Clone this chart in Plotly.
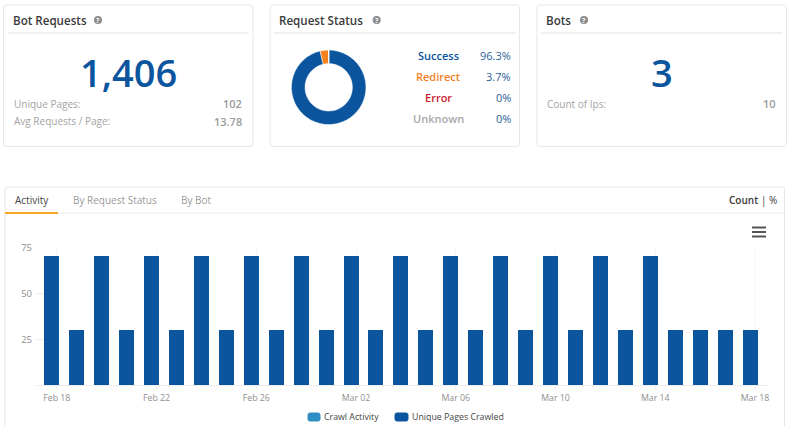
"""Bot log dashboard: three summary cards and the activity bar chart."""

import plotly.graph_objects as go

WIDTH = 800
HEIGHT = 426
FONT = "Open Sans"
BLUE = "#0b559f"
LIGHT_BLUE = "#2f8ec4"
ORANGE = "#f5821f"

days = [
    "2018-02-18", "2018-02-19", "2018-02-20", "2018-02-21", "2018-02-22",
    "2018-02-23", "2018-02-24", "2018-02-25", "2018-02-26", "2018-02-27",
    "2018-02-28", "2018-03-01", "2018-03-02", "2018-03-03", "2018-03-04",
    "2018-03-05", "2018-03-06", "2018-03-07", "2018-03-08", "2018-03-09",
    "2018-03-10", "2018-03-11", "2018-03-12", "2018-03-13", "2018-03-14",
    "2018-03-15", "2018-03-16", "2018-03-17", "2018-03-18",
]
unique_pages = [
    70, 30, 70, 30, 70, 30, 70, 30, 70, 30, 70, 30, 70, 30, 70,
    30, 70, 30, 70, 30, 70, 30, 70, 30, 70, 30, 30, 30, 30,
]
crawl_activity = [0] * len(days)

tick_days = [
    "2018-02-18", "2018-02-22", "2018-02-26", "2018-03-02",
    "2018-03-06", "2018-03-10", "2018-03-14", "2018-03-18",
]
tick_labels = [
    "Feb 18", "Feb 22", "Feb 26", "Mar 02",
    "Mar 06", "Mar 10", "Mar 14", "Mar 18",
]

status_names = ["Success", "Redirect", "Error", "Unknown"]
status_shares = [96.3, 3.7, 0, 0]
status_text = ["96.3%", "3.7%", "0%", "0%"]
status_colors = [BLUE, ORANGE, "#c9202c", "#a8a8a8"]
DAY_MS = 86400000


def fx(x):
    return x / WIDTH


def fy(y):
    return 1 - y / HEIGHT


def card(x0, y0, x1, y1, r=3, fill="white", line="#e6e6e6"):
    path = (
        f"M {fx(x0 + r)} {fy(y0)} L {fx(x1 - r)} {fy(y0)} Q {fx(x1)} {fy(y0)} {fx(x1)} {fy(y0 + r)} "
        f"L {fx(x1)} {fy(y1 - r)} Q {fx(x1)} {fy(y1)} {fx(x1 - r)} {fy(y1)} "
        f"L {fx(x0 + r)} {fy(y1)} Q {fx(x0)} {fy(y1)} {fx(x0)} {fy(y1 - r)} "
        f"L {fx(x0)} {fy(y0 + r)} Q {fx(x0)} {fy(y0)} {fx(x0 + r)} {fy(y0)} Z"
    )
    return dict(type="path", xref="paper", yref="paper", path=path,
                line=dict(color=line, width=1), fillcolor=fill, layer="below")


def hline(x0, x1, y, color="#ececec", width=1):
    return dict(type="line", xref="paper", yref="paper", x0=fx(x0), x1=fx(x1), y0=fy(y), y1=fy(y),
                line=dict(color=color, width=width), layer="below")


def label(x, y, text, size=10, color="#a3a3a3", anchor="left", weight=400):
    return dict(xref="paper", yref="paper", x=fx(x), y=fy(y), text=text, showarrow=False,
                xanchor=anchor, yanchor="middle", align=anchor, borderpad=0, borderwidth=0,
                font=dict(family=FONT, size=size, color=color, weight=weight))


def help_icon(x, y):
    shape = dict(type="circle", xref="paper", yref="paper", x0=fx(x - 4), x1=fx(x + 4),
                 y0=fy(y + 4), y1=fy(y - 4), fillcolor="#8c8c8c", line=dict(width=0), layer="below")
    return shape, label(x, y, "?", size=7, color="white", anchor="center", weight=700)


fig = go.Figure()

fig.add_trace(go.Bar(
    x=days, y=crawl_activity, name="Crawl Activity",
    marker=dict(color=LIGHT_BLUE, line=dict(width=0)),
    width=0.6 * DAY_MS, offset=-0.5 * DAY_MS, showlegend=False,
))
fig.add_trace(go.Bar(
    x=days, y=unique_pages, name="Unique Pages Crawled",
    marker=dict(color=BLUE, line=dict(width=0)),
    width=0.6 * DAY_MS, offset=-0.5 * DAY_MS, showlegend=False,
))
fig.add_trace(go.Pie(
    labels=status_names, values=status_shares, hole=0.635, sort=False, direction="clockwise",
    marker=dict(colors=status_colors, line=dict(color="white", width=0.5)),
    textinfo="none", showlegend=False,
    domain=dict(x=[fx(291.4), fx(366)], y=[fy(124.6), fy(50)]),
))

shapes = [
    card(3.5, 5, 253, 146.5),
    card(270, 5, 519.5, 146.5),
    card(537, 5, 786.5, 146.5),
    card(5, 187, 784.5, 440),
    hline(8, 249, 33, width=1.5),
    hline(274, 516, 33, width=1.5),
    hline(541, 782, 33, width=1.5),
    hline(5, 784, 213),
    hline(5, 58, 213, color="#f5a623", width=2),
    hline(752, 766, 227.5, color="#555555", width=2),
    hline(752, 766, 232, color="#555555", width=2),
    hline(752, 766, 236.5, color="#555555", width=2),
    # legend swatches
    card(308, 413, 320, 421, r=2, fill=LIGHT_BLUE, line=LIGHT_BLUE),
    card(395, 413, 408, 421, r=2, fill=BLUE, line=BLUE),
]

annotations = [
    label(12.5, 20, "Bot Requests", size=11.6, color="#3a3a3a", weight=600),
    label(279, 20, "Request Status", size=11.6, color="#3a3a3a", weight=600),
    label(546, 20, "Bots", size=11.6, color="#3a3a3a", weight=600),
    label(128.5, 72, "1,406", size=38, color=BLUE, anchor="center", weight=600),
    label(661.5, 72, "3", size=38, color=BLUE, anchor="center", weight=600),
    label(14, 104, "Unique Pages:"),
    label(242, 104, "102", size=11, color="#9a9a9a", anchor="right", weight=600),
    label(14, 121, "Avg Requests / Page:"),
    label(242, 121, "13.78", size=11, color="#9a9a9a", anchor="right", weight=600),
    label(547, 104, "Count of Ips:"),
    label(776, 104, "10", size=11, color="#9a9a9a", anchor="right", weight=600),
    label(15, 200, "Activity", color="#444444"),
    label(73, 200, "By Request Status", color="#9a9a9a"),
    label(181, 200, "By Bot", color="#9a9a9a"),
    label(729, 200, "Count", color="#3a3a3a", weight=600),
    label(777, 200, "| %", color="#3a3a3a", anchor="right"),
    label(323.5, 416.7, "Crawl Activity", size=8.8, color="#444444"),
    label(412, 416.7, "Unique Pages Crawled", size=8.8, color="#444444"),
]

for i, name in enumerate(status_names):
    row_y = 55.5 + 21 * i
    annotations.append(label(438.5, row_y, name, size=11, color=status_colors[i], anchor="center", weight=600))
    annotations.append(label(511, row_y, status_text[i], size=11, color="#2d5f98", anchor="right"))

for x, y in [(98, 20), (376.7, 20), (584, 20)]:
    circle, mark = help_icon(x, y)
    shapes.append(circle)
    annotations.append(mark)

fig.update_xaxes(
    type="date", domain=[fx(36), fx(768)],
    range=["2018-02-17 04:00", "2018-03-18 12:30"],
    tickmode="array", tickvals=tick_days, ticktext=tick_labels,
    ticks="outside", ticklen=4, tickcolor="#eeeeee",
    showline=True, linecolor="#eeeeee", linewidth=1,
    showgrid=True, gridcolor="#f5f5f5", zeroline=False,
    tickfont=dict(family=FONT, size=8.8, color="#8f8f8f"),
)
fig.update_yaxes(
    domain=[fy(385.3), fy(247.3)], range=[0, 75],
    tickmode="array", tickvals=[25, 50, 75],
    ticks="inside", ticklen=8, tickcolor="#eeeeee",
    showline=False, showgrid=False, zeroline=False, ticklabelstandoff=3,
    tickfont=dict(family=FONT, size=9.5, color="#8f8f8f"),
)
fig.update_layout(
    width=WIDTH, height=HEIGHT,
    margin=dict(l=0, r=0, t=0, b=0, autoexpand=False),
    paper_bgcolor="white", plot_bgcolor="rgba(0,0,0,0)",
    barmode="overlay", bargap=0,
    shapes=shapes, annotations=annotations,
    showlegend=False,
)

fig.write_html("out.html", config=dict(displayModeBar=False),
               post_script="document.body.style.margin = '0';")
